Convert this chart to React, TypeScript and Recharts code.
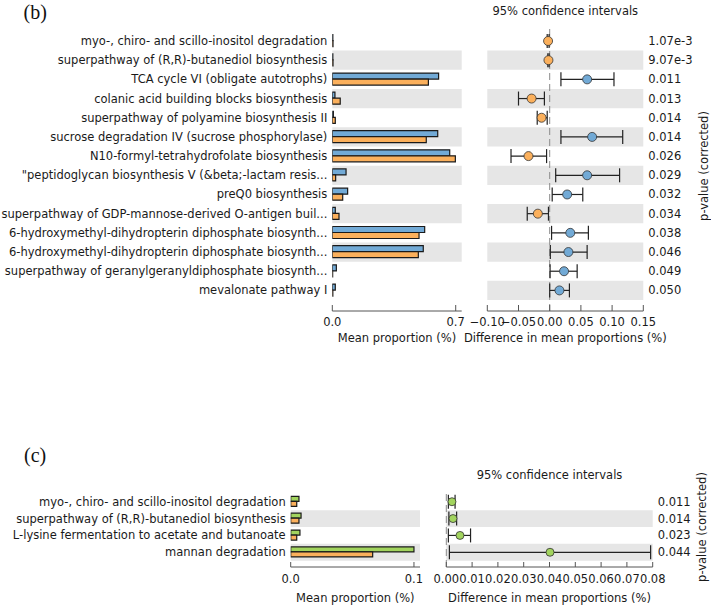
import React from 'react';
import {
  BarChart,
  Bar,
  ScatterChart,
  Scatter,
  XAxis,
  YAxis,
  ReferenceArea,
  ReferenceLine,
  ErrorBar,
} from 'recharts';

// ---- panel (b) ----
const labelsB = [
  'myo-, chiro- and scillo-inositol degradation',
  'superpathway of (R,R)-butanediol biosynthesis',
  'TCA cycle VI (obligate autotrophs)',
  'colanic acid building blocks biosynthesis',
  'superpathway of polyamine biosynthesis II',
  'sucrose degradation IV (sucrose phosphorylase)',
  'N10-formyl-tetrahydrofolate biosynthesis',
  '"peptidoglycan biosynthesis V (&beta;-lactam resis...',
  'preQ0 biosynthesis',
  'superpathway of GDP-mannose-derived O-antigen buil...',
  '6-hydroxymethyl-dihydropterin diphosphate biosynth...',
  '6-hydroxymethyl-dihydropterin diphosphate biosynth...',
  'superpathway of geranylgeranyldiphosphate biosynth...',
  'mevalonate pathway I',
];
const blueB = [0.003, 0.003, 0.603, 0.015, 0.006, 0.598, 0.666, 0.078, 0.087, 0.017, 0.524, 0.516, 0.023, 0.017];
const orangeB = [0.004, 0.004, 0.545, 0.045, 0.017, 0.533, 0.698, 0.019, 0.059, 0.038, 0.492, 0.488, 0.002, 0.003];
const diffB = [-0.0026, -0.002, 0.06, -0.029, -0.013, 0.068, -0.034, 0.06, 0.028, -0.019, 0.033, 0.03, 0.023, 0.0156];
const ciLowB = [-0.004, -0.003, 0.018, -0.05, -0.02, 0.018, -0.062, 0.0096, 0.004, -0.036, 0.003, 0.001, 0.0006, 0.0];
const ciHighB = [-0.001, -0.001, 0.103, -0.0085, -0.004, 0.117, -0.005, 0.112, 0.053, -0.002, 0.062, 0.06, 0.044, 0.0316];
const pvalB = ['1.07e-3', '9.07e-3', '0.011', '0.013', '0.014', '0.014', '0.026', '0.029', '0.032', '0.034', '0.038', '0.046', '0.049', '0.050'];
const barTicksB = [0, 0.7];
const diffTicksB = [-0.1, -0.05, 0, 0.05, 0.1, 0.15];

// ---- panel (c) ----
const labelsC = [
  'myo-, chiro- and scillo-inositol degradation',
  'superpathway of (R,R)-butanediol biosynthesis',
  'L-lysine fermentation to acetate and butanoate',
  'mannan degradation',
];
const greenC = [0.0067, 0.0084, 0.0075, 0.1];
const orangeC = [0.0049, 0.0067, 0.0049, 0.0665];
const diffC = [0.0022, 0.0026, 0.0053, 0.0402];
const ciLowC = [0.0008, 0.001, 0.0008, 0.0012];
const ciHighC = [0.0034, 0.004, 0.0094, 0.0792];
const pvalC = ['0.011', '0.014', '0.023', '0.044'];
const barTicksC = [0, 0.1];
const diffTicksC = [0, 0.01, 0.02, 0.03, 0.04, 0.05, 0.06, 0.07, 0.08];

const BLUE = '#72aad6';
const ORANGE = '#fbb05c';
const GREEN = '#a2d45e';
const BAND = '#e6e6e6';
const AXIS = '#555';
const TEXT = '#1a1a1a';
const FONT = 11.5;

const fmtDiff = (v: number) => (v < 0 ? `\u2212${Math.abs(v).toFixed(2)}` : v.toFixed(2));

// plain svg text so long pathway names never wrap
const sideTick = (texts: string[], anchor: 'start' | 'end', offset: number) => (p: any) => (
  <text x={p.x} y={p.y} textAnchor={anchor} dominantBaseline="central" fontSize={FONT} fill={TEXT}>
    {texts[p.payload.value - offset]}
  </text>
);

function MeanBars(props: any) {
  const { labels, first, second, firstColor, xMax, ticks, box, margin, pad, yw, gap, tickLen, tickGap, titleOffset } = props;
  const data = labels.map((_: string, i: number) => ({ row: i, first: first[i], second: second[i] }));
  return (
    <div style={{ position: 'absolute', left: box.left, top: box.top }}>
      <BarChart
        width={box.width}
        height={box.height}
        data={data}
        layout="vertical"
        margin={margin}
        barCategoryGap={gap}
        barGap={0}
      >
        {labels.map((_: string, i: number) =>
          i % 2 === 1 ? (
            <ReferenceArea key={i} y1={i} y2={i} fill={BAND} fillOpacity={1} stroke="none" />
          ) : null
        )}
        <XAxis
          type="number"
          domain={[0, xMax]}
          ticks={ticks}
          tickFormatter={(v: number) => v.toFixed(1)}
          allowDataOverflow
          height={40}
          axisLine={{ stroke: AXIS }}
          tickLine={{ stroke: AXIS }}
          tickSize={-tickLen}
          tickMargin={tickGap}
          tick={{ fontSize: FONT, fill: TEXT }}
          label={{ value: 'Mean proportion (%)', position: 'insideBottom', offset: titleOffset, fontSize: FONT, fill: TEXT }}
        />
        <YAxis
          type="category"
          dataKey="row"
          width={yw}
          padding={pad}
          interval={0}
          axisLine={false}
          tickLine={false}
          tickSize={0}
          tickMargin={5}
          tick={sideTick(labels, 'end', 0)}
        />
        <Bar dataKey="first" fill={firstColor} stroke="#1a1a1a" strokeWidth={1.2} isAnimationActive={false} />
        <Bar dataKey="second" fill={ORANGE} stroke="#1a1a1a" strokeWidth={1.2} isAnimationActive={false} />
      </BarChart>
    </div>
  );
}

function DiffPlot(props: any) {
  const { diff, lo, hi, pvals, domain, ticks, box, margin, pad, yw, r, posColor, negColor, tickLen, tickGap, titleOffset } = props;
  const n = diff.length;
  const points = diff.map((d: number, i: number) => ({ row: i + 1, diff: d, ci: [d - lo[i], hi[i] - d] }));
  const pos = points.filter((p: any) => p.diff > 0);
  const neg = points.filter((p: any) => p.diff <= 0);
  const rows = points.map((p: any) => p.row);
  const dot = (color: string) => (s: any) => (
    <circle cx={s.cx} cy={s.cy} r={r} fill={color} stroke="#333" strokeWidth={0.8} />
  );
  return (
    <div style={{ position: 'absolute', left: box.left, top: box.top }}>
      <ScatterChart width={box.width} height={box.height} margin={margin}>
        {rows.map((row: number) =>
          row % 2 === 0 ? (
            <ReferenceArea key={row} y1={row - 0.5} y2={row + 0.5} fill={BAND} fillOpacity={1} stroke="none" />
          ) : null
        )}
        <ReferenceLine x={0} stroke="#8a8a8a" strokeDasharray="7 4" />
        <XAxis
          type="number"
          dataKey="diff"
          domain={domain}
          ticks={ticks}
          tickFormatter={fmtDiff}
          allowDataOverflow
          interval={0}
          height={40}
          axisLine={{ stroke: AXIS }}
          tickLine={{ stroke: AXIS }}
          tickSize={-tickLen}
          tickMargin={tickGap}
          tick={{ fontSize: FONT, fill: TEXT }}
          label={{ value: 'Difference in mean proportions (%)', position: 'insideBottom', offset: titleOffset, fontSize: FONT, fill: TEXT }}
        />
        <YAxis
          type="number"
          dataKey="row"
          orientation="right"
          domain={[0.5, n + 0.5]}
          reversed
          padding={pad}
          ticks={rows}
          interval={0}
          width={yw}
          axisLine={false}
          tickLine={false}
          tickSize={0}
          tickMargin={5}
          tick={sideTick(pvals, 'start', 1)}
        />
        <Scatter data={neg} fill={negColor} shape={dot(negColor)} isAnimationActive={false}>
          <ErrorBar dataKey="ci" direction="x" width={7} stroke="#222" strokeWidth={1.2} isAnimationActive={false} />
        </Scatter>
        <Scatter data={pos} fill={posColor} shape={dot(posColor)} isAnimationActive={false}>
          <ErrorBar dataKey="ci" direction="x" width={7} stroke="#222" strokeWidth={1.2} isAnimationActive={false} />
        </Scatter>
      </ScatterChart>
    </div>
  );
}

export default function App() {
  return (
    <div
      style={{
        position: 'absolute',
        left: 0,
        top: 0,
        width: 711,
        height: 607,
        background: '#fff',
        fontFamily: '"DejaVu Sans", sans-serif',
        overflow: 'hidden',
      }}
    >
      <MeanBars
        labels={labelsB}
        first={blueB}
        second={orangeB}
        firstColor={BLUE}
        xMax={0.734}
        ticks={barTicksB}
        box={{ left: 0, top: 0, width: 470, height: 360 }}
        margin={{ top: 27, right: 8.3, bottom: 9, left: 0 }}
        pad={{ top: 4.4, bottom: 11 }}
        yw={332.3}
        gap="17%"
        tickLen={6}
        tickGap={12.6}
        titleOffset={9}
      />
      <DiffPlot
        diff={diffB}
        lo={ciLowB}
        hi={ciHighB}
        pvals={pvalB}
        domain={[-0.1, 0.15]}
        ticks={diffTicksB}
        box={{ left: 430, top: 0, width: 281, height: 360 }}
        margin={{ top: 27, right: 7.7, bottom: 9, left: 57.3 }}
        pad={{ top: 4.4, bottom: 11 }}
        yw={60}
        r={4.5}
        posColor={BLUE}
        negColor={ORANGE}
        tickLen={6}
        tickGap={12.6}
        titleOffset={9}
      />
      <MeanBars
        labels={labelsC}
        first={greenC}
        second={orangeC}
        firstColor={GREEN}
        xMax={0.1049}
        ticks={barTicksC}
        box={{ left: 0, top: 450, width: 430, height: 157 }}
        margin={{ top: 40, right: 10, bottom: 0, left: 0 }}
        pad={{ top: 3.3, bottom: 6.3 }}
        yw={290.7}
        gap="18%"
        tickLen={5}
        tickGap={13.2}
        titleOffset={5}
      />
      <DiffPlot
        diff={diffC}
        lo={ciLowC}
        hi={ciHighC}
        pvals={pvalC}
        domain={[0, 0.08]}
        ticks={diffTicksC}
        box={{ left: 420, top: 450, width: 291, height: 157 }}
        margin={{ top: 40, right: 8.3, bottom: 0, left: 26.3 }}
        pad={{ top: 3.3, bottom: 6.3 }}
        yw={50}
        r={4}
        posColor={GREEN}
        negColor={ORANGE}
        tickLen={5}
        tickGap={13.2}
        titleOffset={5}
      />
      <svg
        width={711}
        height={607}
        style={{ position: 'absolute', left: 0, top: 0, pointerEvents: 'none' }}
      >
        <text x={23.5} y={12} dominantBaseline="central" fontFamily='"Liberation Serif", serif' fontSize={20} fill="#111">
          (b)
        </text>
        <text x={24} y={455} dominantBaseline="central" fontFamily='"Liberation Serif", serif' fontSize={20} fill="#111">
          (c)
        </text>
        <text x={565.3} y={10.7} textAnchor="middle" dominantBaseline="central" fontSize={FONT} fill={TEXT}>
          95% confidence intervals
        </text>
        <text x={549.5} y={475} textAnchor="middle" dominantBaseline="central" fontSize={FONT} fill={TEXT}>
          95% confidence intervals
        </text>
        <text
          x={704}
          y={166}
          textAnchor="middle"
          dominantBaseline="central"
          fontSize={FONT}
          fill={TEXT}
          transform="rotate(-90 704 166)"
        >
          p-value (corrected)
        </text>
        <text
          x={702}
          y={527}
          textAnchor="middle"
          dominantBaseline="central"
          fontSize={FONT}
          fill={TEXT}
          transform="rotate(-90 702 527)"
        >
          p-value (corrected)
        </text>
      </svg>
    </div>
  );
}
